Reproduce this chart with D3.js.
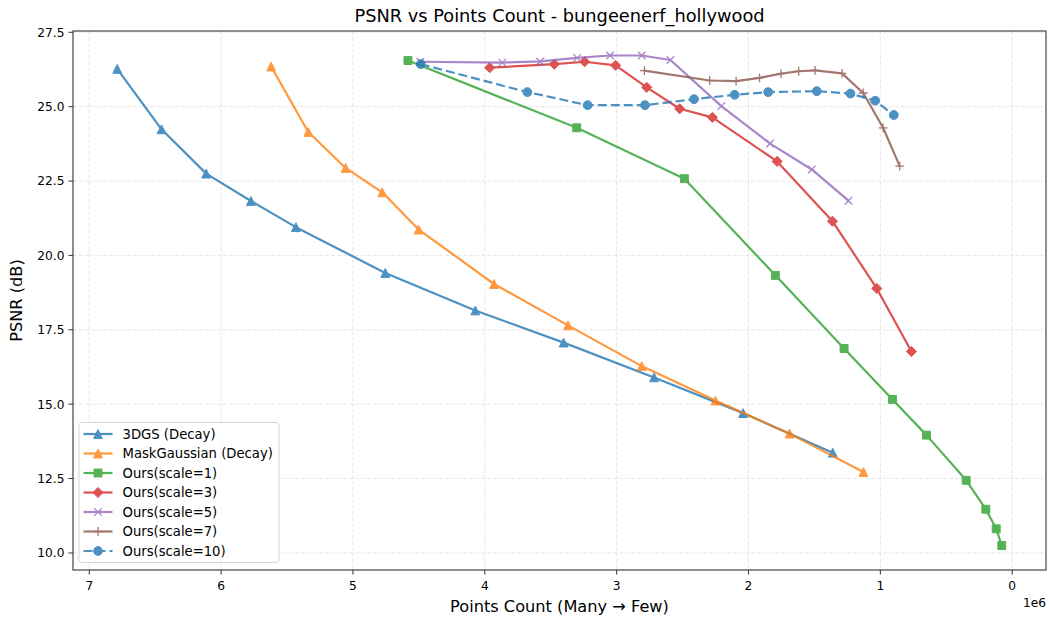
<!DOCTYPE html>
<html>
<head>
<meta charset="utf-8">
<script src="https://cdn.jsdelivr.net/npm/d3@7"></script>
<style>
  html, body { margin: 0; padding: 0; background: #fff; }
  svg { display: block; font-family: "DejaVu Sans", sans-serif; }
</style>
</head>
<body>
<svg id="chart" width="1050" height="620"></svg>
<script>
// ---- Data (points count in units of 1, PSNR in dB) ----
const seriesNames = ["3DGS (Decay)", "MaskGaussian (Decay)", "Ours(scale=1)", "Ours(scale=3)", "Ours(scale=5)", "Ours(scale=7)", "Ours(scale=10)"];

const dgsX    = [6.788, 6.452, 6.113, 5.774, 5.433, 4.755, 4.072, 3.402, 2.716, 2.041, 1.361].map(v => v * 1e6);
const dgsY    = [26.27, 24.24, 22.75, 21.83, 20.95, 19.41, 18.15, 17.07, 15.90, 14.70, 13.37];

const maskX   = [5.621, 5.339, 5.056, 4.778, 4.502, 3.930, 3.369, 2.810, 2.251, 1.688, 1.128].map(v => v * 1e6);
const maskY   = [26.35, 24.15, 22.94, 22.12, 20.87, 19.04, 17.65, 16.28, 15.12, 14.01, 12.72];

const s1X     = [4.583, 3.303, 2.486, 1.796, 1.275, 0.908, 0.650, 0.349, 0.200, 0.121, 0.079].map(v => v * 1e6);
const s1Y     = [26.55, 24.29, 22.58, 19.33, 16.87, 15.16, 13.96, 12.44, 11.47, 10.81, 10.25];

const s3X     = [3.963, 3.473, 3.243, 3.008, 2.772, 2.522, 2.274, 1.783, 1.363, 1.027, 0.764].map(v => v * 1e6);
const s3Y     = [26.31, 26.43, 26.51, 26.39, 25.65, 24.93, 24.64, 23.16, 21.15, 18.89, 16.77];

const s5X     = [4.489, 3.867, 3.581, 3.300, 3.050, 2.810, 2.592, 2.206, 1.836, 1.520, 1.242].map(v => v * 1e6);
const s5Y     = [26.51, 26.48, 26.52, 26.64, 26.72, 26.72, 26.57, 25.02, 23.76, 22.89, 21.84];

const s7X     = [2.790, 2.294, 2.094, 1.916, 1.753, 1.619, 1.495, 1.290, 1.130, 0.979, 0.853].map(v => v * 1e6);
const s7Y     = [26.21, 25.88, 25.86, 25.97, 26.11, 26.19, 26.22, 26.12, 25.46, 24.29, 23.00];

const s10X    = [4.486, 3.677, 3.220, 2.785, 2.413, 2.105, 1.851, 1.482, 1.227, 1.039, 0.898].map(v => v * 1e6);
const s10Y    = [26.43, 25.49, 25.05, 25.05, 25.25, 25.40, 25.49, 25.52, 25.44, 25.20, 24.72];

const xTicks = [7e6, 6e6, 5e6, 4e6, 3e6, 2e6, 1e6, 0];
const yTicks = [10.0, 12.5, 15.0, 17.5, 20.0, 22.5, 25.0, 27.5];

const titleText = "PSNR vs Points Count - bungeenerf_hollywood";
const xLabelText = "Points Count (Many \u2192 Few)";
const yLabelText = "PSNR (dB)";
const offsetText = "1e6";

// ---- Styles ----
const colors  = ["#1f77b4", "#ff7f0e", "#2ca02c", "#d62728", "#9467bd", "#8c564b", "#1f77b4"];
const markers = ["tri", "tri", "square", "diamond", "x", "plus", "circle"];
const dashes  = [null, null, null, null, null, null, "9,4"];

const allX = [dgsX, maskX, s1X, s3X, s5X, s7X, s10X];
const allY = [dgsY, maskY, s1Y, s3Y, s5Y, s7Y, s10Y];
const series = seriesNames.map((name, i) => ({
  name, color: colors[i], marker: markers[i], dash: dashes[i],
  points: allX[i].map((x, j) => ({ x, y: allY[i][j] }))
}));

// ---- Layout ----
const svg = d3.select("#chart");
const L = 73, R = 1046, T = 31, B = 570;

const flatX = allX.flat(), flatY = allY.flat();
const [xmin, xmax] = d3.extent(flatX);
const [ymin, ymax] = d3.extent(flatY);
const xm = (xmax - xmin) * 0.05, ym = (ymax - ymin) * 0.05;

const x = d3.scaleLinear().domain([xmax + xm, xmin - xm]).range([L, R]);
const y = d3.scaleLinear().domain([ymin - ym, ymax + ym]).range([B, T]);

// grid
const grid = svg.append("g");
grid.selectAll(".gx").data(xTicks).join("line")
  .attr("x1", d => x(d)).attr("x2", d => x(d)).attr("y1", T).attr("y2", B)
  .attr("stroke", "#b0b0b0").attr("stroke-opacity", 0.3).attr("stroke-width", 1)
  .attr("stroke-dasharray", "4,2");
grid.selectAll(".gy").data(yTicks).join("line")
  .attr("y1", d => y(d)).attr("y2", d => y(d)).attr("x1", L).attr("x2", R)
  .attr("stroke", "#b0b0b0").attr("stroke-opacity", 0.3).attr("stroke-width", 1)
  .attr("stroke-dasharray", "4,2");

// clip
svg.append("clipPath").attr("id", "clip").append("rect")
  .attr("x", L).attr("y", T).attr("width", R - L).attr("height", B - T);

const plot = svg.append("g").attr("clip-path", "url(#clip)");

function markerPath(type, s) {
  const r = s / 2;
  switch (type) {
    case "tri": return `M0,${-r}L${r},${r}L${-r},${r}Z`;
    case "square": return `M${-r*0.9},${-r*0.9}H${r*0.9}V${r*0.9}H${-r*0.9}Z`;
    case "diamond": { const d = r * 1.15; return `M0,${-d}L${d},0L0,${d}L${-d},0Z`; }
    case "x": return `M${-r*0.85},${-r*0.85}L${r*0.85},${r*0.85}M${-r*0.85},${r*0.85}L${r*0.85},${-r*0.85}`;
    case "plus": return `M${-r},0H${r}M0,${-r}V${r}`;
    case "circle": return d3.symbol(d3.symbolCircle, Math.PI * r * r)();
  }
}
const msize = 8.8;

const line = d3.line().x(d => x(d.x)).y(d => y(d.y));

series.forEach(s => {
  const g = plot.append("g").attr("opacity", 0.8);
  g.append("path").datum(s.points)
    .attr("d", line).attr("fill", "none").attr("stroke", s.color)
    .attr("stroke-width", 2.2).attr("stroke-linejoin", "round")
    .attr("stroke-dasharray", s.dash);
  const filled = !(s.marker === "x" || s.marker === "plus");
  g.selectAll(".m").data(s.points).join("path")
    .attr("transform", d => `translate(${x(d.x)},${y(d.y)})`)
    .attr("d", markerPath(s.marker, msize))
    .attr("fill", filled ? s.color : "none")
    .attr("stroke", s.color).attr("stroke-width", filled ? 1 : 1.3);
});

// spines
svg.append("rect").attr("x", L).attr("y", T).attr("width", R - L).attr("height", B - T)
  .attr("fill", "none").attr("stroke", "#333").attr("stroke-width", 1.1);

// axes ticks
const xAxis = svg.append("g");
xTicks.forEach(t => {
  xAxis.append("line").attr("x1", x(t)).attr("x2", x(t)).attr("y1", B).attr("y2", B + 4.5)
    .attr("stroke", "#333").attr("stroke-width", 1);
  xAxis.append("text").attr("x", x(t)).attr("y", B + 20).attr("text-anchor", "middle")
    .attr("font-size", 12.2).attr("fill", "#000").text(d3.format("d")(t / 1e6));
});
const yAxis = svg.append("g");
yTicks.forEach(t => {
  yAxis.append("line").attr("x1", L - 4.5).attr("x2", L).attr("y1", y(t)).attr("y2", y(t))
    .attr("stroke", "#333").attr("stroke-width", 1);
  yAxis.append("text").attr("x", L - 8.5).attr("y", y(t)).attr("dy", "0.36em").attr("text-anchor", "end")
    .attr("font-size", 12.2).attr("fill", "#000").text(d3.format(".1f")(t));
});

// offset text
svg.append("text").attr("x", R).attr("y", 607).attr("text-anchor", "end")
  .attr("font-size", 12.2).attr("fill", "#000").text(offsetText);

// labels
svg.append("text").attr("x", (L + R) / 2).attr("y", 612).attr("text-anchor", "middle")
  .attr("font-size", 16.2).attr("fill", "#000").text(xLabelText);
svg.append("text").attr("transform", `translate(22,${(T + B) / 2}) rotate(-90)`)
  .attr("text-anchor", "middle").attr("font-size", 16.2).attr("fill", "#000").text(yLabelText);
svg.append("text").attr("x", (L + R) / 2).attr("y", 22).attr("text-anchor", "middle")
  .attr("font-size", 17.8).attr("fill", "#000").text(titleText);

// legend
const lg = svg.append("g");
lg.append("rect").attr("x", 79).attr("y", 422.5).attr("width", 200).attr("height", 140)
  .attr("rx", 3).attr("fill", "#fff").attr("fill-opacity", 0.8)
  .attr("stroke", "#d5d5d5").attr("stroke-width", 1);
series.forEach((s, i) => {
  const cy = 434 + i * 19.5;
  const g = lg.append("g").attr("opacity", 0.8);
  g.append("line").attr("x1", 83.5).attr("x2", 112.5).attr("y1", cy).attr("y2", cy)
    .attr("stroke", s.color).attr("stroke-width", 2.2).attr("stroke-dasharray", s.dash);
  const filled = !(s.marker === "x" || s.marker === "plus");
  g.append("path").attr("transform", `translate(98,${cy})`)
    .attr("d", markerPath(s.marker, msize))
    .attr("fill", filled ? s.color : "none")
    .attr("stroke", s.color).attr("stroke-width", filled ? 1 : 1.3);
  lg.append("text").attr("x", 122.5).attr("y", cy).attr("dy", "0.36em")
    .attr("font-size", 13.2).attr("fill", "#000").text(s.name);
});
</script>
</body>
</html>
